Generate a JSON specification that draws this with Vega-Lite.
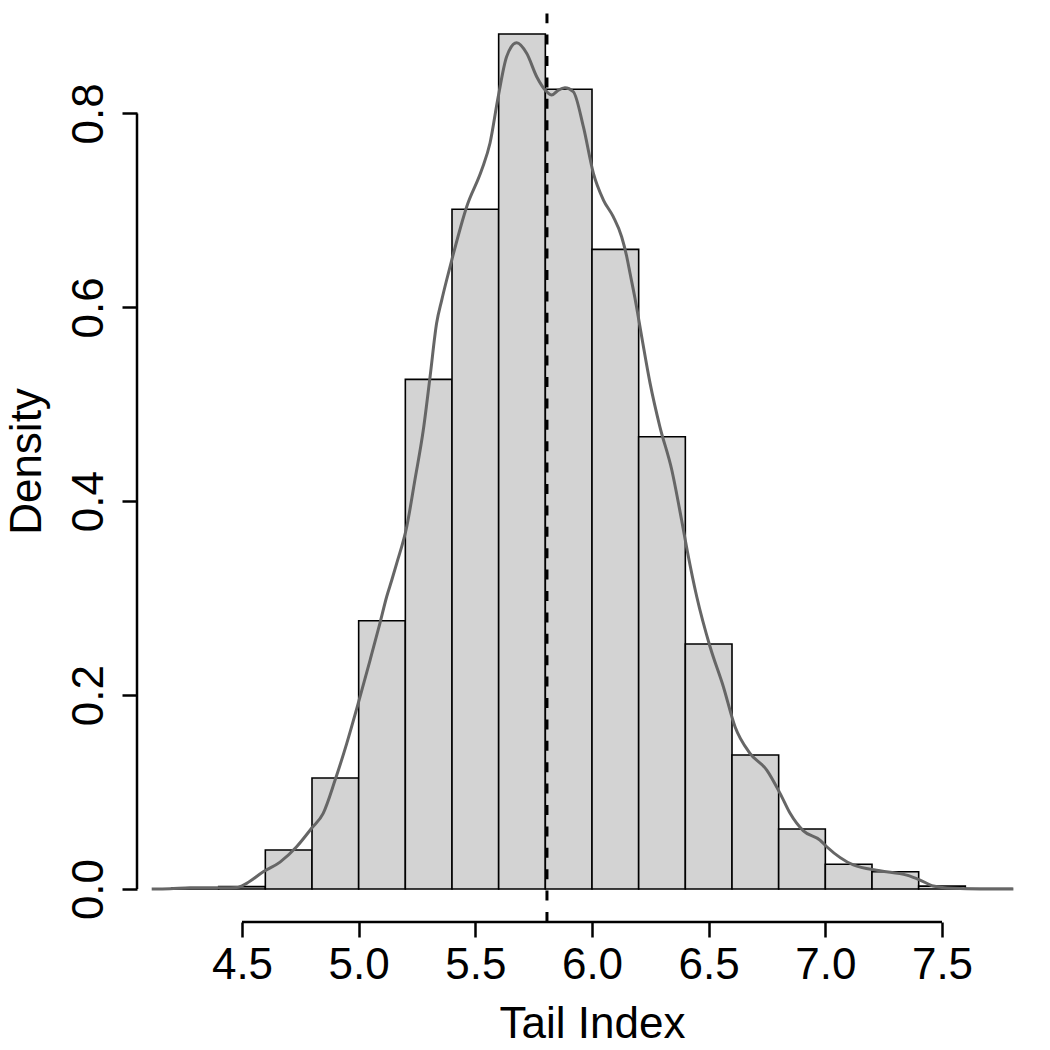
{
  "$schema": "https://vega.github.io/schema/vega-lite/v6.json",
  "width": 910,
  "height": 922,
  "autosize": {"type": "none"},
  "padding": {"left": 137, "top": 0, "right": 3, "bottom": 128},
  "background": "white",
  "config": {
    "view": {"stroke": null},
    "axis": {
      "domain": false, "grid": false, "ticks": true, "tickSize": 15, "tickWidth": 2.5, "tickColor": "black",
      "labelFont": "Liberation Sans", "labelFontSize": 44, "labelColor": "black", "labelFlush": false, "labelOverlap": false,
      "titleFont": "Liberation Sans", "titleFontSize": 44, "titleFontWeight": "normal", "titleColor": "black",
      "titleBaseline": "alphabetic", "titleAlign": "center"
    }
  },
  "datasets": {
    "bins": [
      {"bin_start": 4.2, "bin_end": 4.4, "density": 0.001},
      {"bin_start": 4.4, "bin_end": 4.6, "density": 0.0025},
      {"bin_start": 4.6, "bin_end": 4.8, "density": 0.0402},
      {"bin_start": 4.8, "bin_end": 5.0, "density": 0.1145},
      {"bin_start": 5.0, "bin_end": 5.2, "density": 0.2767},
      {"bin_start": 5.2, "bin_end": 5.4, "density": 0.5257},
      {"bin_start": 5.4, "bin_end": 5.6, "density": 0.7011},
      {"bin_start": 5.6, "bin_end": 5.8, "density": 0.8819},
      {"bin_start": 5.8, "bin_end": 6.0, "density": 0.8249},
      {"bin_start": 6.0, "bin_end": 6.2, "density": 0.6598},
      {"bin_start": 6.2, "bin_end": 6.4, "density": 0.4665},
      {"bin_start": 6.4, "bin_end": 6.6, "density": 0.2527},
      {"bin_start": 6.6, "bin_end": 6.8, "density": 0.1382},
      {"bin_start": 6.8, "bin_end": 7.0, "density": 0.0619},
      {"bin_start": 7.0, "bin_end": 7.2, "density": 0.0255},
      {"bin_start": 7.2, "bin_end": 7.4, "density": 0.0178},
      {"bin_start": 7.4, "bin_end": 7.6, "density": 0.003},
      {"bin_start": 7.6, "bin_end": 7.8, "density": 0.0005}
    ],
    "kde": [
      {"x": 4.113, "y": 0.0}, {"x": 4.191, "y": 0.0003}, {"x": 4.277, "y": 0.0012}, {"x": 4.377, "y": 0.0013},
      {"x": 4.477, "y": 0.0015}, {"x": 4.52, "y": 0.0059}, {"x": 4.591, "y": 0.0178}, {"x": 4.663, "y": 0.0278},
      {"x": 4.734, "y": 0.0436}, {"x": 4.799, "y": 0.0629}, {"x": 4.848, "y": 0.0781}, {"x": 4.899, "y": 0.1124},
      {"x": 4.949, "y": 0.1503}, {"x": 4.998, "y": 0.1915}, {"x": 5.049, "y": 0.2362}, {"x": 5.091, "y": 0.2741},
      {"x": 5.12, "y": 0.3015}, {"x": 5.142, "y": 0.3187}, {"x": 5.163, "y": 0.3359}, {"x": 5.206, "y": 0.3737},
      {"x": 5.241, "y": 0.4219}, {"x": 5.277, "y": 0.4734}, {"x": 5.306, "y": 0.5284}, {"x": 5.334, "y": 0.5835},
      {"x": 5.356, "y": 0.6075}, {"x": 5.377, "y": 0.6282}, {"x": 5.399, "y": 0.6488}, {"x": 5.463, "y": 0.7038},
      {"x": 5.527, "y": 0.7416}, {"x": 5.563, "y": 0.7695}, {"x": 5.598, "y": 0.8172}, {"x": 5.634, "y": 0.8585},
      {"x": 5.677, "y": 0.8729}, {"x": 5.72, "y": 0.862}, {"x": 5.763, "y": 0.8379}, {"x": 5.806, "y": 0.8224},
      {"x": 5.827, "y": 0.819}, {"x": 5.856, "y": 0.8241}, {"x": 5.884, "y": 0.8265}, {"x": 5.92, "y": 0.8224},
      {"x": 5.963, "y": 0.7863}, {"x": 6.006, "y": 0.7382}, {"x": 6.049, "y": 0.7107}, {"x": 6.091, "y": 0.6935},
      {"x": 6.127, "y": 0.6728}, {"x": 6.149, "y": 0.6522}, {"x": 6.163, "y": 0.6351}, {"x": 6.184, "y": 0.6096},
      {"x": 6.213, "y": 0.5697}, {"x": 6.249, "y": 0.5216}, {"x": 6.291, "y": 0.4768}, {"x": 6.342, "y": 0.4322},
      {"x": 6.384, "y": 0.3806}, {"x": 6.409, "y": 0.348}, {"x": 6.449, "y": 0.3015}, {"x": 6.506, "y": 0.2499},
      {"x": 6.563, "y": 0.2087}, {"x": 6.613, "y": 0.1674}, {"x": 6.677, "y": 0.14}, {"x": 6.749, "y": 0.1227},
      {"x": 6.806, "y": 0.0987}, {"x": 6.849, "y": 0.0781}, {"x": 6.906, "y": 0.06}, {"x": 6.977, "y": 0.0505},
      {"x": 7.006, "y": 0.0436}, {"x": 7.12, "y": 0.0248}, {"x": 7.234, "y": 0.0189}, {"x": 7.349, "y": 0.0144},
      {"x": 7.406, "y": 0.0093}, {"x": 7.463, "y": 0.0031}, {"x": 7.549, "y": 0.0007}, {"x": 7.663, "y": 0.0},
      {"x": 7.806, "y": 0.0}
    ],
    "ref": [{"tail_index": 5.807}]
  },
  "layer": [
    {
      "data": {"name": "bins"},
      "mark": {"type": "bar", "fill": "#d3d3d3", "stroke": "black", "strokeWidth": 1.6},
      "encoding": {
        "x": {"field": "bin_start", "type": "quantitative",
              "scale": {"domain": [4.05, 7.95], "nice": false, "zero": false},
              "axis": {"values": [4.5, 5, 5.5, 6, 6.5, 7, 7.5], "format": ".1f", "labelBaseline": "alphabetic", "labelPadding": 41,
                       "title": "Tail Index", "titleX": 455, "titleY": 115}},
        "x2": {"field": "bin_end"},
        "y": {"field": "density", "type": "quantitative",
              "scale": {"domain": [-0.034, 0.917], "nice": false, "zero": false},
              "axis": {"values": [0, 0.2, 0.4, 0.6, 0.8], "format": ".1f", "labelAngle": -90, "labelAlign": "center",
                       "labelBaseline": "alphabetic", "labelPadding": 20,
                       "title": "Density", "titleAngle": -90, "titleX": -97, "titleY": 461}},
        "y2": {"datum": 0}
      }
    },
    {
      "data": {"name": "kde"},
      "mark": {"type": "line", "color": "#666666", "strokeWidth": 3, "interpolate": "monotone"},
      "encoding": {
        "x": {"field": "x", "type": "quantitative", "title": "Tail Index"},
        "y": {"field": "y", "type": "quantitative", "title": "Density"}
      }
    },
    {
      "data": {"name": "ref"},
      "mark": {"type": "rule", "color": "black", "strokeWidth": 3, "strokeDash": [10, 11.4]},
      "encoding": {
        "x": {"field": "tail_index", "type": "quantitative", "title": "Tail Index"},
        "y": {"datum": -0.034, "title": "Density"},
        "y2": {"datum": 0.903}
      }
    },
    {
      "data": {"name": "ref"},
      "mark": {"type": "rule", "color": "black", "strokeWidth": 2.5},
      "encoding": {
        "x": {"datum": 4.5, "title": "Tail Index"},
        "x2": {"datum": 7.5},
        "y": {"datum": -0.034, "title": "Density"}
      }
    },
    {
      "data": {"name": "ref"},
      "mark": {"type": "rule", "color": "black", "strokeWidth": 2.5},
      "encoding": {
        "x": {"datum": 4.05, "title": "Tail Index"},
        "y": {"datum": 0, "title": "Density"},
        "y2": {"datum": 0.8}
      }
    }
  ]
}
